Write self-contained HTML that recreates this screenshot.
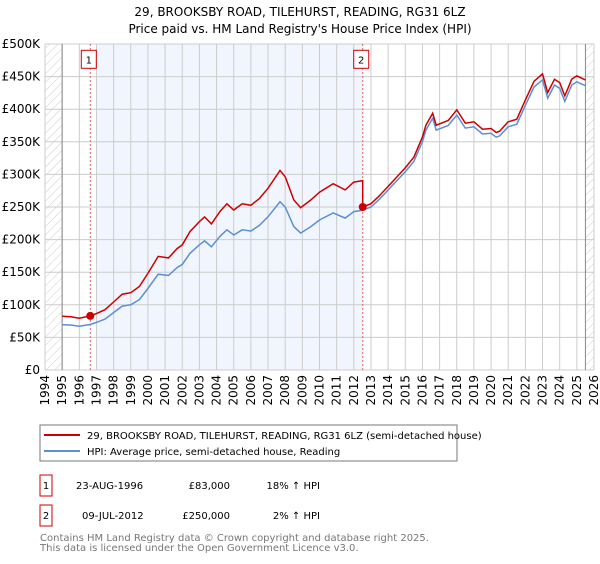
<!DOCTYPE html>
<html><head><meta charset="utf-8"><style>
body{margin:0;background:#fff;font-family:"DejaVu Sans","Liberation Sans",sans-serif;}
svg text{font-family:"DejaVu Sans","Liberation Sans",sans-serif;}
</style></head><body>
<svg id="c" width="600" height="560" xmlns="http://www.w3.org/2000/svg">
<defs><pattern id="hatch" width="6" height="6" patternUnits="userSpaceOnUse" patternTransform="rotate(45)"><line x1="0" y1="0" x2="0" y2="6" stroke="#ccc" stroke-width="1"/></pattern></defs>
<text x="300" y="16" text-anchor="middle" font-size="12" fill="#000">29, BROOKSBY ROAD, TILEHURST, READING, RG31 6LZ</text>
<text x="300" y="33" text-anchor="middle" font-size="12" fill="#000">Price paid vs. HM Land Registry's House Price Index (HPI)</text>
<g id="grid"></g><g id="marks"></g><g id="axes"></g>
<rect x="40" y="425" width="417" height="36" fill="#fff" stroke="#777"/>
<line x1="44" y1="435" x2="80" y2="435" stroke="#cc0000" stroke-width="2"/>
<text x="87" y="439" font-size="10">29, BROOKSBY ROAD, TILEHURST, READING, RG31 6LZ (semi-detached house)</text>
<line x1="44" y1="451" x2="80" y2="451" stroke="#5b8fd4" stroke-width="2"/>
<text x="87" y="455" font-size="10">HPI: Average price, semi-detached house, Reading</text>
<g font-size="10">
<rect x="40" y="475" width="12" height="21" fill="#fff" stroke="#cc0000"/>
<text x="46" y="489" text-anchor="middle">1</text>
<text x="76" y="489">23-AUG-1996</text><text x="230" y="489" text-anchor="end">£83,000</text><text x="320" y="489" text-anchor="end">18% ↑ HPI</text>
<rect x="40" y="505" width="12" height="21" fill="#fff" stroke="#cc0000"/>
<text x="46" y="519" text-anchor="middle">2</text>
<text x="82" y="519">09-JUL-2012</text><text x="230" y="519" text-anchor="end">£250,000</text><text x="320" y="519" text-anchor="end">2% ↑ HPI</text>
</g>
<text x="40" y="541" font-size="10" fill="#777">Contains HM Land Registry data © Crown copyright and database right 2025.</text>
<text x="40" y="551" font-size="10" fill="#777">This data is licensed under the Open Government Licence v3.0.</text>
</svg>
<script>
const hpiYears=[1995,1995.5,1996,1996.64,1997,1997.5,1998,1998.5,1999,1999.5,2000,2000.6,2001.2,2001.7,2002,2002.45,2003,2003.3,2003.7,2004.2,2004.6,2005,2005.5,2006,2006.5,2007,2007.7,2008,2008.5,2008.9,2009.5,2010,2010.8,2011.5,2012,2012.52,2013,2013.5,2014,2014.5,2015,2015.5,2016,2016.2,2016.6,2016.8,2017.5,2018,2018.5,2019,2019.5,2020,2020.3,2020.5,2021,2021.5,2022,2022.5,2023,2023.3,2023.7,2024,2024.3,2024.7,2025,2025.5];
const hpiValues=[69.5,69,67,70,73,78,88,98,100,108,125,147,145,157,162,179,192,198,189,205,215,207,215,213,222,235,258,250,220,210,220,230,241,233,243,245,250,262,276,290,304,320,350,368,386,368,375,391,371,373,362,363,357,359,373,377,406,434,445,417,437,432,412,437,442,436];
const saleYears=[1996.64,2012.52];
const salePrices=[83,250];
const yTicks=[0,50,100,150,200,250,300,350,400,450,500];
const yTickLabels=["£0","£50K","£100K","£150K","£200K","£250K","£300K","£350K","£400K","£450K","£500K"];
const xTicks=[1994,1995,1996,1997,1998,1999,2000,2001,2002,2003,2004,2005,2006,2007,2008,2009,2010,2011,2012,2013,2014,2015,2016,2017,2018,2019,2020,2021,2022,2023,2024,2025,2026];
const NS="http://www.w3.org/2000/svg";
const X=y=>45+(y-1994)*(549/32), Y=v=>370-v*326/500;
function mk(t,a,p){const e=document.createElementNS(NS,t);for(const k in a)e.setAttribute(k,a[k]);p.appendChild(e);return e;}
const grid=document.getElementById('grid'),marks=document.getElementById('marks'),axes=document.getElementById('axes');
function hpiAt(y){for(let i=0;i<hpiYears.length-1;i++){if(y>=hpiYears[i]&&y<=hpiYears[i+1]){const t=(y-hpiYears[i])/(hpiYears[i+1]-hpiYears[i]);return hpiValues[i]+t*(hpiValues[i+1]-hpiValues[i]);}}return hpiValues[hpiValues.length-1];}
const h1=mk('rect',{x:X(1994),y:Y(500),width:X(1995)-X(1994),height:Y(0)-Y(500),fill:'url(#hatch)'},grid);


const h2=mk('rect',{x:X(2025.5),y:Y(500),width:X(2026)-X(2025.5),height:Y(0)-Y(500),fill:'url(#hatch)'},grid);


const sh=mk('rect',{x:X(1997),y:Y(500),width:X(saleYears[1])-X(1997),height:Y(0)-Y(500),fill:'#eef3fc',opacity:0.8},grid);


yTicks.forEach((v,i)=>{
 const l=mk('line',{x1:X(1994),x2:X(2026),y1:Y(v),y2:Y(v),stroke:'#ccc'},grid);
 
 
 const t=mk('text',{x:40,y:Y(v)+4,'text-anchor':'end','font-size':12},axes);t.textContent=yTickLabels[i];
 
 
});
xTicks.forEach(y=>{
 const l=mk('line',{x1:X(y),x2:X(y),y1:Y(500),y2:Y(0),stroke:'#ccc'},grid);
 
 
 const t=mk('text',{x:0,y:0,'text-anchor':'end','font-size':12,transform:`translate(${X(y)+4},375) rotate(-90)`},axes);t.textContent=y;
 
 
});
const v1=mk('line',{x1:X(1995),x2:X(1995),y1:Y(500),y2:Y(0),stroke:'#888'},grid);


const v2=mk('line',{x1:X(2025.5),x2:X(2025.5),y1:Y(500),y2:Y(0),stroke:'#888'},grid);


saleYears.forEach((s,i)=>{
 const l=mk('line',{x1:X(s),x2:X(s),y1:Y(500),y2:Y(0),stroke:'#e06060','stroke-dasharray':'2,2'},grid);
 
 
 const r=mk('rect',{x:X(s)-9,y:Y(475)-10,width:15,height:18,fill:'#fff',stroke:'#cc0000'},axes);
 
 
 const t=mk('text',{x:X(s)-1.5,y:Y(475)+3,'text-anchor':'middle','font-size':10},axes);t.textContent=i+1;
 
 
});
const hp=mk('path',{d:hpiYears.map((y,i)=>(i?'L':'M')+X(y).toFixed(1)+','+Y(hpiValues[i]).toFixed(1)).join(''),fill:'none',stroke:'#5b8fd4','stroke-width':1.5},marks);


const r1=salePrices[0]/hpiAt(saleYears[0]),r2=salePrices[1]/hpiAt(saleYears[1]);
let pts=[];
hpiYears.forEach((y,i)=>{ if(y<saleYears[1]) pts.push([y,hpiValues[i]*r1]); });
pts.push([saleYears[1],hpiAt(saleYears[1])*r1]);
pts.push([saleYears[1],salePrices[1]]);
hpiYears.forEach((y,i)=>{ if(y>saleYears[1]) pts.push([y,hpiValues[i]*r2]); });
const pp=mk('path',{d:pts.map((p,i)=>(i?'L':'M')+X(p[0]).toFixed(1)+','+Y(p[1]).toFixed(1)).join(''),fill:'none',stroke:'#cc0000','stroke-width':1.5},marks);


saleYears.forEach((s,i)=>{
 const c=mk('circle',{cx:X(s),cy:Y(salePrices[i]),r:4,fill:'#cc0000'},marks);
 
 
});
</script>
</body></html>
